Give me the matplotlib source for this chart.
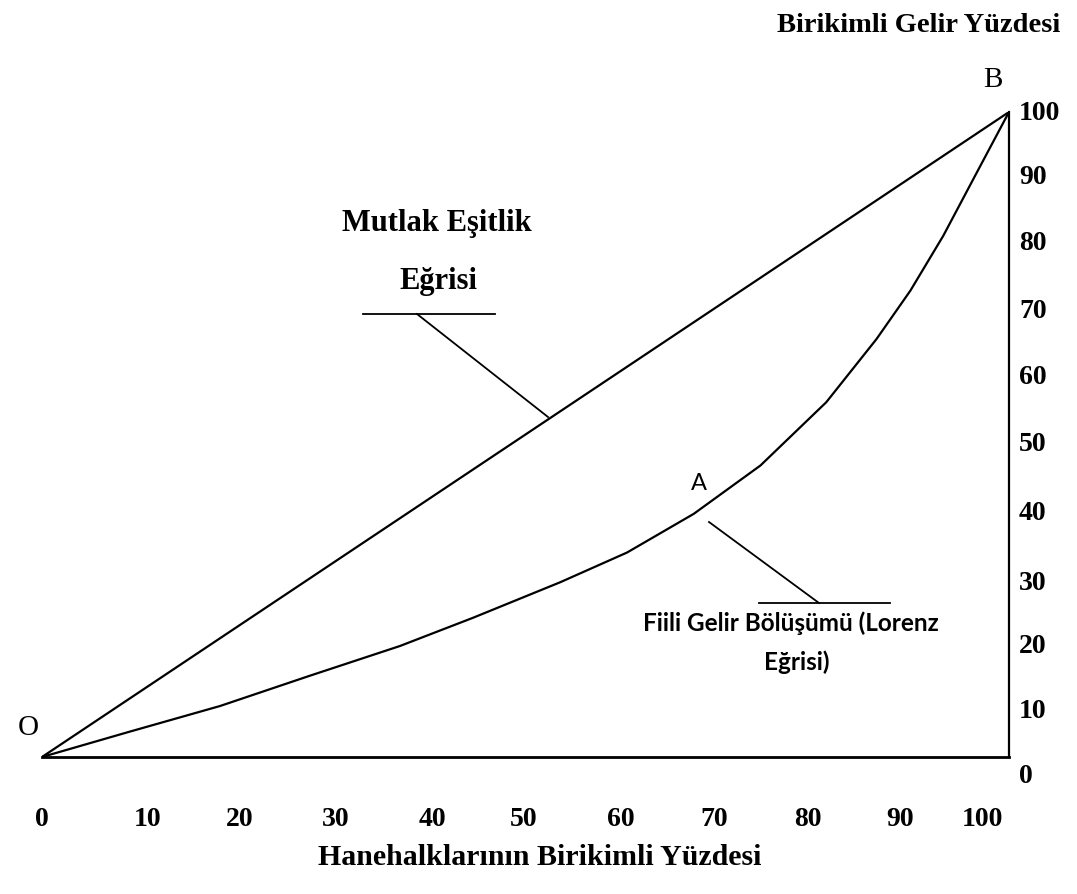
import matplotlib
matplotlib.use("Agg")
import matplotlib.pyplot as plt
from matplotlib.lines import Line2D

# Data: cumulative share of households (x) and income (y), in %
equality_x = [0, 100]
equality_y = [0, 100]
lorenz_x = [0, 9, 18.4, 27.7, 37, 44.6, 53.6, 60.5, 67.4, 74.3, 81.1, 86.3, 89.8, 93.2, 96.7, 100]
lorenz_y = [0, 3.9, 7.9, 12.6, 17.2, 21.6, 27.1, 31.7, 37.7, 45.2, 55.0, 64.8, 72.3, 80.8, 90.7, 100]
x_labels = ["0", "10", "20", "30", "40", "50", "60", "70", "80", "90", "100"]
y_labels = ["0", "10", "20", "30", "40", "50", "60", "70", "80", "90", "100"]

W, H = 1077, 895
fig = plt.figure(figsize=(W / 100, H / 100), dpi=100)

# axes box runs from O (42, 758) to B (1009, 113) in pixels
ax = fig.add_axes([42 / W, 1 - 758 / H, (1009 - 42) / W, (758 - 113) / H])
ax.set_xlim(0, 100)
ax.set_ylim(0, 100)
ax.plot(equality_x, equality_y, color="black", lw=1.6, solid_capstyle="butt")
ax.plot(lorenz_x, lorenz_y, color="black", lw=1.6, solid_joinstyle="round")
ax.spines["top"].set_visible(False)
ax.spines["left"].set_visible(False)
ax.spines["bottom"].set_linewidth(2)
ax.spines["right"].set_linewidth(1.6)
ax.set_xticks([])
ax.set_yticks([])
ax.patch.set_alpha(0)

serif = "Liberation Serif"
sans = "Lato"


def ftext(px, py, s, **kw):
    fig.text(px / W, 1 - py / H, s, **kw)


def fline(xs, ys):
    fig.add_artist(Line2D([x / W for x in xs], [1 - y / H for y in ys],
                          color="black", lw=1.3))


# tick labels, placed where the drawing put them
x_label_px = [42, 148, 240, 336, 432, 524, 621, 714, 808, 900, 982]
y_label_py = [777, 712, 647, 583, 513, 445, 377, 311, 243, 177, 113]
for lab, px in zip(x_labels, x_label_px):
    ftext(px, 820, lab, family=serif, weight="bold", fontsize=20,
          ha="center", va="center")
for lab, py in zip(y_labels, y_label_py):
    ftext(1019, py, lab, family=serif, weight="bold", fontsize=20,
          ha="left", va="center")

# axis titles
ftext(1060, 26, "Birikimli Gelir Yüzdesi", family=serif, weight="bold",
      fontsize=20.5, ha="right", va="center")
ftext(540, 858, "Hanehalklarının Birikimli Yüzdesi", family=serif,
      weight="bold", fontsize=21.5, ha="center", va="center")

# point names
ftext(28, 728, "O", family=serif, fontsize=21, ha="center", va="center")
ftext(993, 80, "B", family=serif, fontsize=21, ha="center", va="center")
ftext(699, 483, "A", family=sans, fontsize=17, ha="center", va="center")

# equality line callout
ftext(437, 223, "Mutlak Eşitlik", family=serif, weight="bold", fontsize=22,
      ha="center", va="center")
ftext(438, 282, "Eğrisi", family=serif, weight="bold", fontsize=22,
      ha="center", va="center")
fline([363, 495], [315, 315])
fline([417, 548], [315, 418])

# Lorenz curve callout
fline([709, 819], [523, 604])
fline([759, 890], [604, 604])
ftext(791, 623, "Fiili Gelir Bölüşümü (Lorenz", family=sans, weight="bold",
      fontsize=17.5, ha="center", va="center")
ftext(797, 662, "Eğrisi)", family=sans, weight="bold", fontsize=17.5,
      ha="center", va="center")

fig.savefig("out.png", dpi=100)
